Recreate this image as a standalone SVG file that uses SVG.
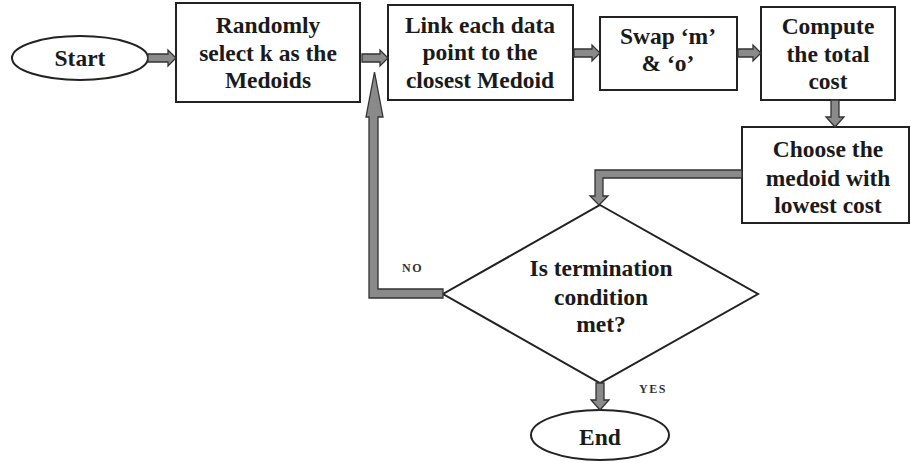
<svg xmlns="http://www.w3.org/2000/svg" width="911" height="465" viewBox="0 0 911 465">
<style>
.box{fill:#fff;stroke:#222;stroke-width:2}
.t{font-family:"Liberation Serif","Times New Roman",serif;font-weight:bold;font-size:23.5px;fill:#1a1a1a;text-anchor:middle}
.s{font-family:"Liberation Serif","Times New Roman",serif;font-weight:bold;font-size:12px;fill:#333;letter-spacing:1.5px}
.ar{fill:#8a8a8a;stroke:#333;stroke-width:1.3;stroke-linejoin:miter}
</style>
<rect width="911" height="465" fill="#fff"/>
<g id="start"><ellipse class="box" cx="80" cy="58" rx="68" ry="22"/><text class="t" x="80" y="66">Start</text></g>
<g id="select"><rect class="box" x="176" y="3" width="184" height="99"/>
<text class="t" x="268" y="33">Randomly</text><text class="t" x="268" y="61">select k as the</text><text class="t" x="268" y="88">Medoids</text></g>
<g id="link"><rect class="box" x="388" y="5" width="185" height="95"/>
<text class="t" x="480" y="33">Link each data</text><text class="t" x="480" y="60">point to the</text><text class="t" x="480" y="88">closest Medoid</text></g>
<g id="swap"><rect class="box" x="600" y="17" width="137" height="73"/>
<text class="t" x="668" y="44">Swap ‘m’</text><text class="t" x="668" y="71">&amp; ‘o’</text></g>
<g id="compute"><rect class="box" x="761" y="7" width="134" height="93"/>
<text class="t" x="828" y="34">Compute</text><text class="t" x="828" y="62">the total</text><text class="t" x="828" y="89">cost</text></g>
<g id="choose"><rect class="box" x="742" y="127" width="167" height="96"/>
<text class="t" x="828" y="157">Choose the</text><text class="t" x="828" y="186">medoid with</text><text class="t" x="828" y="213">lowest cost</text></g>
<g id="decision"><polygon class="box" points="600,205 758,294 600,383 443,294"/>
<text class="t" x="601" y="276">Is termination</text><text class="t" x="601" y="305">condition</text><text class="t" x="601" y="332">met?</text></g>
<g id="end"><ellipse class="box" cx="600" cy="435" rx="69" ry="25"/><text class="t" x="600" y="445">End</text></g>
<g id="connectors">
<polygon class="ar" points="148,54 168,54 168,50 176,58 168,66 168,62 148,62"/>
<polygon class="ar" points="362,54 380,54 380,50 388,58 380,66 380,62 362,62"/>
<polygon class="ar" points="574,49 592,49 592,45 600,53 592,61 592,57 574,57"/>
<polygon class="ar" points="738,49 753,49 753,45 761,53 753,61 753,57 738,57"/>
<polygon class="ar" points="831,100 839,100 839,117 844,117 835,127 826,117 831,117"/>
<polygon class="ar" points="742,170 742,178 603,178 603,196 608,196 599,205 590,196 595,196 595,170"/>
<polygon class="ar" points="443,289 443,298 369,298 369,117 366,117 374.5,72 383,117 378,117 378,289"/>
<polygon class="ar" points="596,383 604,383 604,400 609,400 600,410 591,400 596,400"/>
<text class="s" x="402" y="272">NO</text>
<text class="s" x="639" y="393">YES</text>
</g>
</svg>
